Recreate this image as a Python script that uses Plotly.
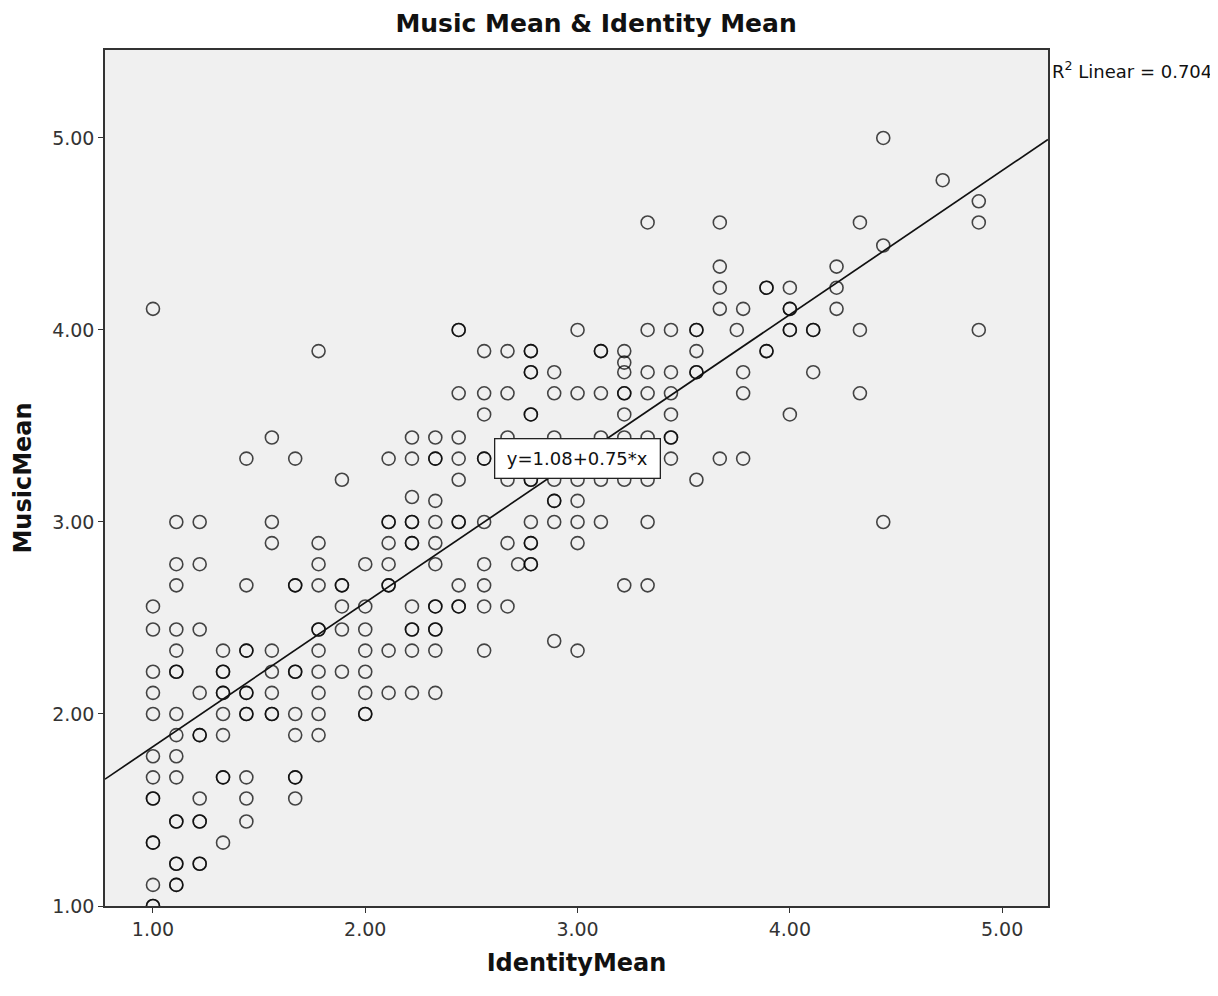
import plotly.graph_objects as go

# ---- data (IdentityMean levels and MusicMean values at each level) ----
identity_levels = [1.00, 1.11, 1.22, 1.33, 1.44, 1.56, 1.67, 1.78, 1.89, 2.00,
                   2.11, 2.22, 2.33, 2.44, 2.56, 2.67, 2.72, 2.78, 2.89, 3.00,
                   3.11, 3.22, 3.33, 3.44, 3.56, 3.67, 3.75, 3.78, 3.89, 4.00,
                   4.11, 4.22, 4.33, 4.44, 4.72, 4.89]

music_at_level = [
    [4.11, 2.56, 2.44, 2.22, 2.11, 2.00, 1.78, 1.67, 1.56, 1.56, 1.33, 1.33, 1.11, 1.00, 1.00],
    [3.00, 2.78, 2.67, 2.44, 2.33, 2.22, 2.22, 2.00, 1.89, 1.78, 1.67, 1.44, 1.44, 1.22, 1.22, 1.11, 1.11],
    [3.00, 2.78, 2.44, 2.11, 1.89, 1.89, 1.56, 1.44, 1.44, 1.22, 1.22],
    [2.33, 2.22, 2.22, 2.11, 2.11, 2.00, 1.89, 1.67, 1.67, 1.33],
    [3.33, 2.67, 2.33, 2.33, 2.11, 2.11, 2.00, 2.00, 1.67, 1.56, 1.44],
    [3.44, 3.00, 2.89, 2.33, 2.22, 2.11, 2.00, 2.00],
    [3.33, 2.67, 2.67, 2.22, 2.22, 2.00, 1.89, 1.67, 1.67, 1.56],
    [3.89, 2.89, 2.78, 2.67, 2.44, 2.44, 2.33, 2.22, 2.11, 2.00, 1.89],
    [3.22, 2.67, 2.67, 2.56, 2.44, 2.22],
    [2.78, 2.56, 2.44, 2.33, 2.22, 2.11, 2.00, 2.00],
    [3.33, 3.00, 3.00, 2.89, 2.78, 2.67, 2.67, 2.33, 2.11],
    [3.44, 3.33, 3.13, 3.00, 3.00, 2.89, 2.89, 2.56, 2.44, 2.44, 2.33, 2.11],
    [3.44, 3.33, 3.33, 3.11, 3.00, 2.89, 2.78, 2.56, 2.56, 2.44, 2.44, 2.33, 2.11],
    [4.00, 4.00, 3.67, 3.44, 3.33, 3.22, 3.00, 3.00, 2.67, 2.56, 2.56],
    [3.89, 3.67, 3.56, 3.33, 3.33, 3.00, 2.78, 2.67, 2.56, 2.33],
    [3.89, 3.67, 3.44, 3.33, 3.22, 2.89, 2.56],
    [2.78],
    [3.89, 3.89, 3.78, 3.78, 3.56, 3.56, 3.33, 3.22, 3.22, 3.00, 2.89, 2.89, 2.78, 2.78],
    [3.78, 3.67, 3.44, 3.22, 3.11, 3.11, 3.00, 2.38],
    [4.00, 3.67, 3.33, 3.22, 3.11, 3.00, 2.89, 2.33],
    [3.89, 3.89, 3.67, 3.44, 3.22, 3.00],
    [3.89, 3.83, 3.78, 3.67, 3.67, 3.56, 3.44, 3.33, 3.22, 2.67],
    [4.56, 4.00, 3.78, 3.67, 3.44, 3.22, 3.00, 2.67],
    [4.00, 3.78, 3.67, 3.56, 3.44, 3.44, 3.33],
    [4.00, 4.00, 3.89, 3.78, 3.78, 3.22],
    [4.56, 4.33, 4.22, 4.11, 3.33],
    [4.00],
    [4.11, 3.78, 3.67, 3.33],
    [4.22, 4.22, 3.89, 3.89],
    [4.22, 4.11, 4.11, 4.00, 4.00, 3.56],
    [4.00, 4.00, 3.78],
    [4.33, 4.22, 4.11],
    [4.56, 4.00, 3.67],
    [5.00, 4.44, 3.00],
    [4.78],
    [4.67, 4.56, 4.00],
]

fit_intercept = 1.08
fit_slope = 0.75
r_squared = 0.704

x_ticks = [1, 2, 3, 4, 5]
y_ticks = [1, 2, 3, 4, 5]
x_range = [0.774, 5.216]
y_range = [1.0, 5.458]

# ---- expand table into point lists ----
identity_mean = []
music_mean = []
for lvl, vals in zip(identity_levels, music_at_level):
    for v in vals:
        identity_mean.append(lvl)
        music_mean.append(v)

font_family = "'DejaVu Sans', Verdana, sans-serif"

fig = go.Figure()

fig.add_trace(go.Scatter(
    x=identity_mean, y=music_mean, mode="markers",
    marker=dict(symbol="circle-open", size=13, color="rgba(0,0,0,0.72)",
                line=dict(width=1.6, color="rgba(0,0,0,0.72)")),
    showlegend=False, hoverinfo="x+y",
))

line_x = [x_range[0], x_range[1]]
line_y = [fit_intercept + fit_slope * v for v in line_x]
fig.add_trace(go.Scatter(
    x=line_x, y=line_y, mode="lines",
    line=dict(color="#111111", width=1.7),
    showlegend=False, hoverinfo="skip",
))

fig.add_annotation(
    x=3.0, y=3.33, xref="x", yref="y",
    text=f"y={fit_intercept:.2f}+{fit_slope:.2f}*x",
    showarrow=False, bgcolor="white", bordercolor="#222222", borderwidth=1.3,
    borderpad=4, height=30, width=156,
    font=dict(family=font_family, size=18, color="#111111"),
)

fig.add_annotation(
    x=1.002, y=0.9766, xref="paper", yref="paper", xanchor="left", yanchor="middle",
    text=f"R<sup>2</sup> Linear = {r_squared:.3f}", showarrow=False,
    font=dict(family=font_family, size=18, color="#111111"),
)

fig.update_layout(
    width=1210, height=988,
    margin=dict(l=97, r=170, t=42, b=90),
    paper_bgcolor="white", plot_bgcolor="#f0f0f0",
    title=dict(text="<b>Music Mean &amp; Identity Mean</b>", x=0.486, xanchor="center",
               y=0.9845, yanchor="middle", xref="container", yref="container",
               font=dict(family=font_family, size=25, color="#111111")),
    font=dict(family=font_family, color="#222222"),
)

fig.update_xaxes(
    range=x_range, tickvals=x_ticks, tickformat=".2f",
    ticks="outside", ticklen=5, tickcolor="#333333", tickwidth=1,
    showgrid=False, zeroline=False, showline=True, mirror=True,
    linecolor="#333333", linewidth=1.5,
    tickfont=dict(family=font_family, size=19, color="#333333"),
    title=dict(text="<b>IdentityMean</b>", standoff=16,
               font=dict(family=font_family, size=24, color="#111111")),
)
fig.update_yaxes(
    range=y_range, tickvals=y_ticks, tickformat=".2f",
    ticks="outside", ticklen=5, tickcolor="#333333", tickwidth=1,
    showgrid=False, zeroline=False, showline=True, mirror=True,
    linecolor="#333333", linewidth=1.5,
    tickfont=dict(family=font_family, size=19, color="#333333"),
    title=dict(text="<b>MusicMean</b>", standoff=14,
               font=dict(family=font_family, size=24, color="#111111")),
)

fig.write_html("out.html")
